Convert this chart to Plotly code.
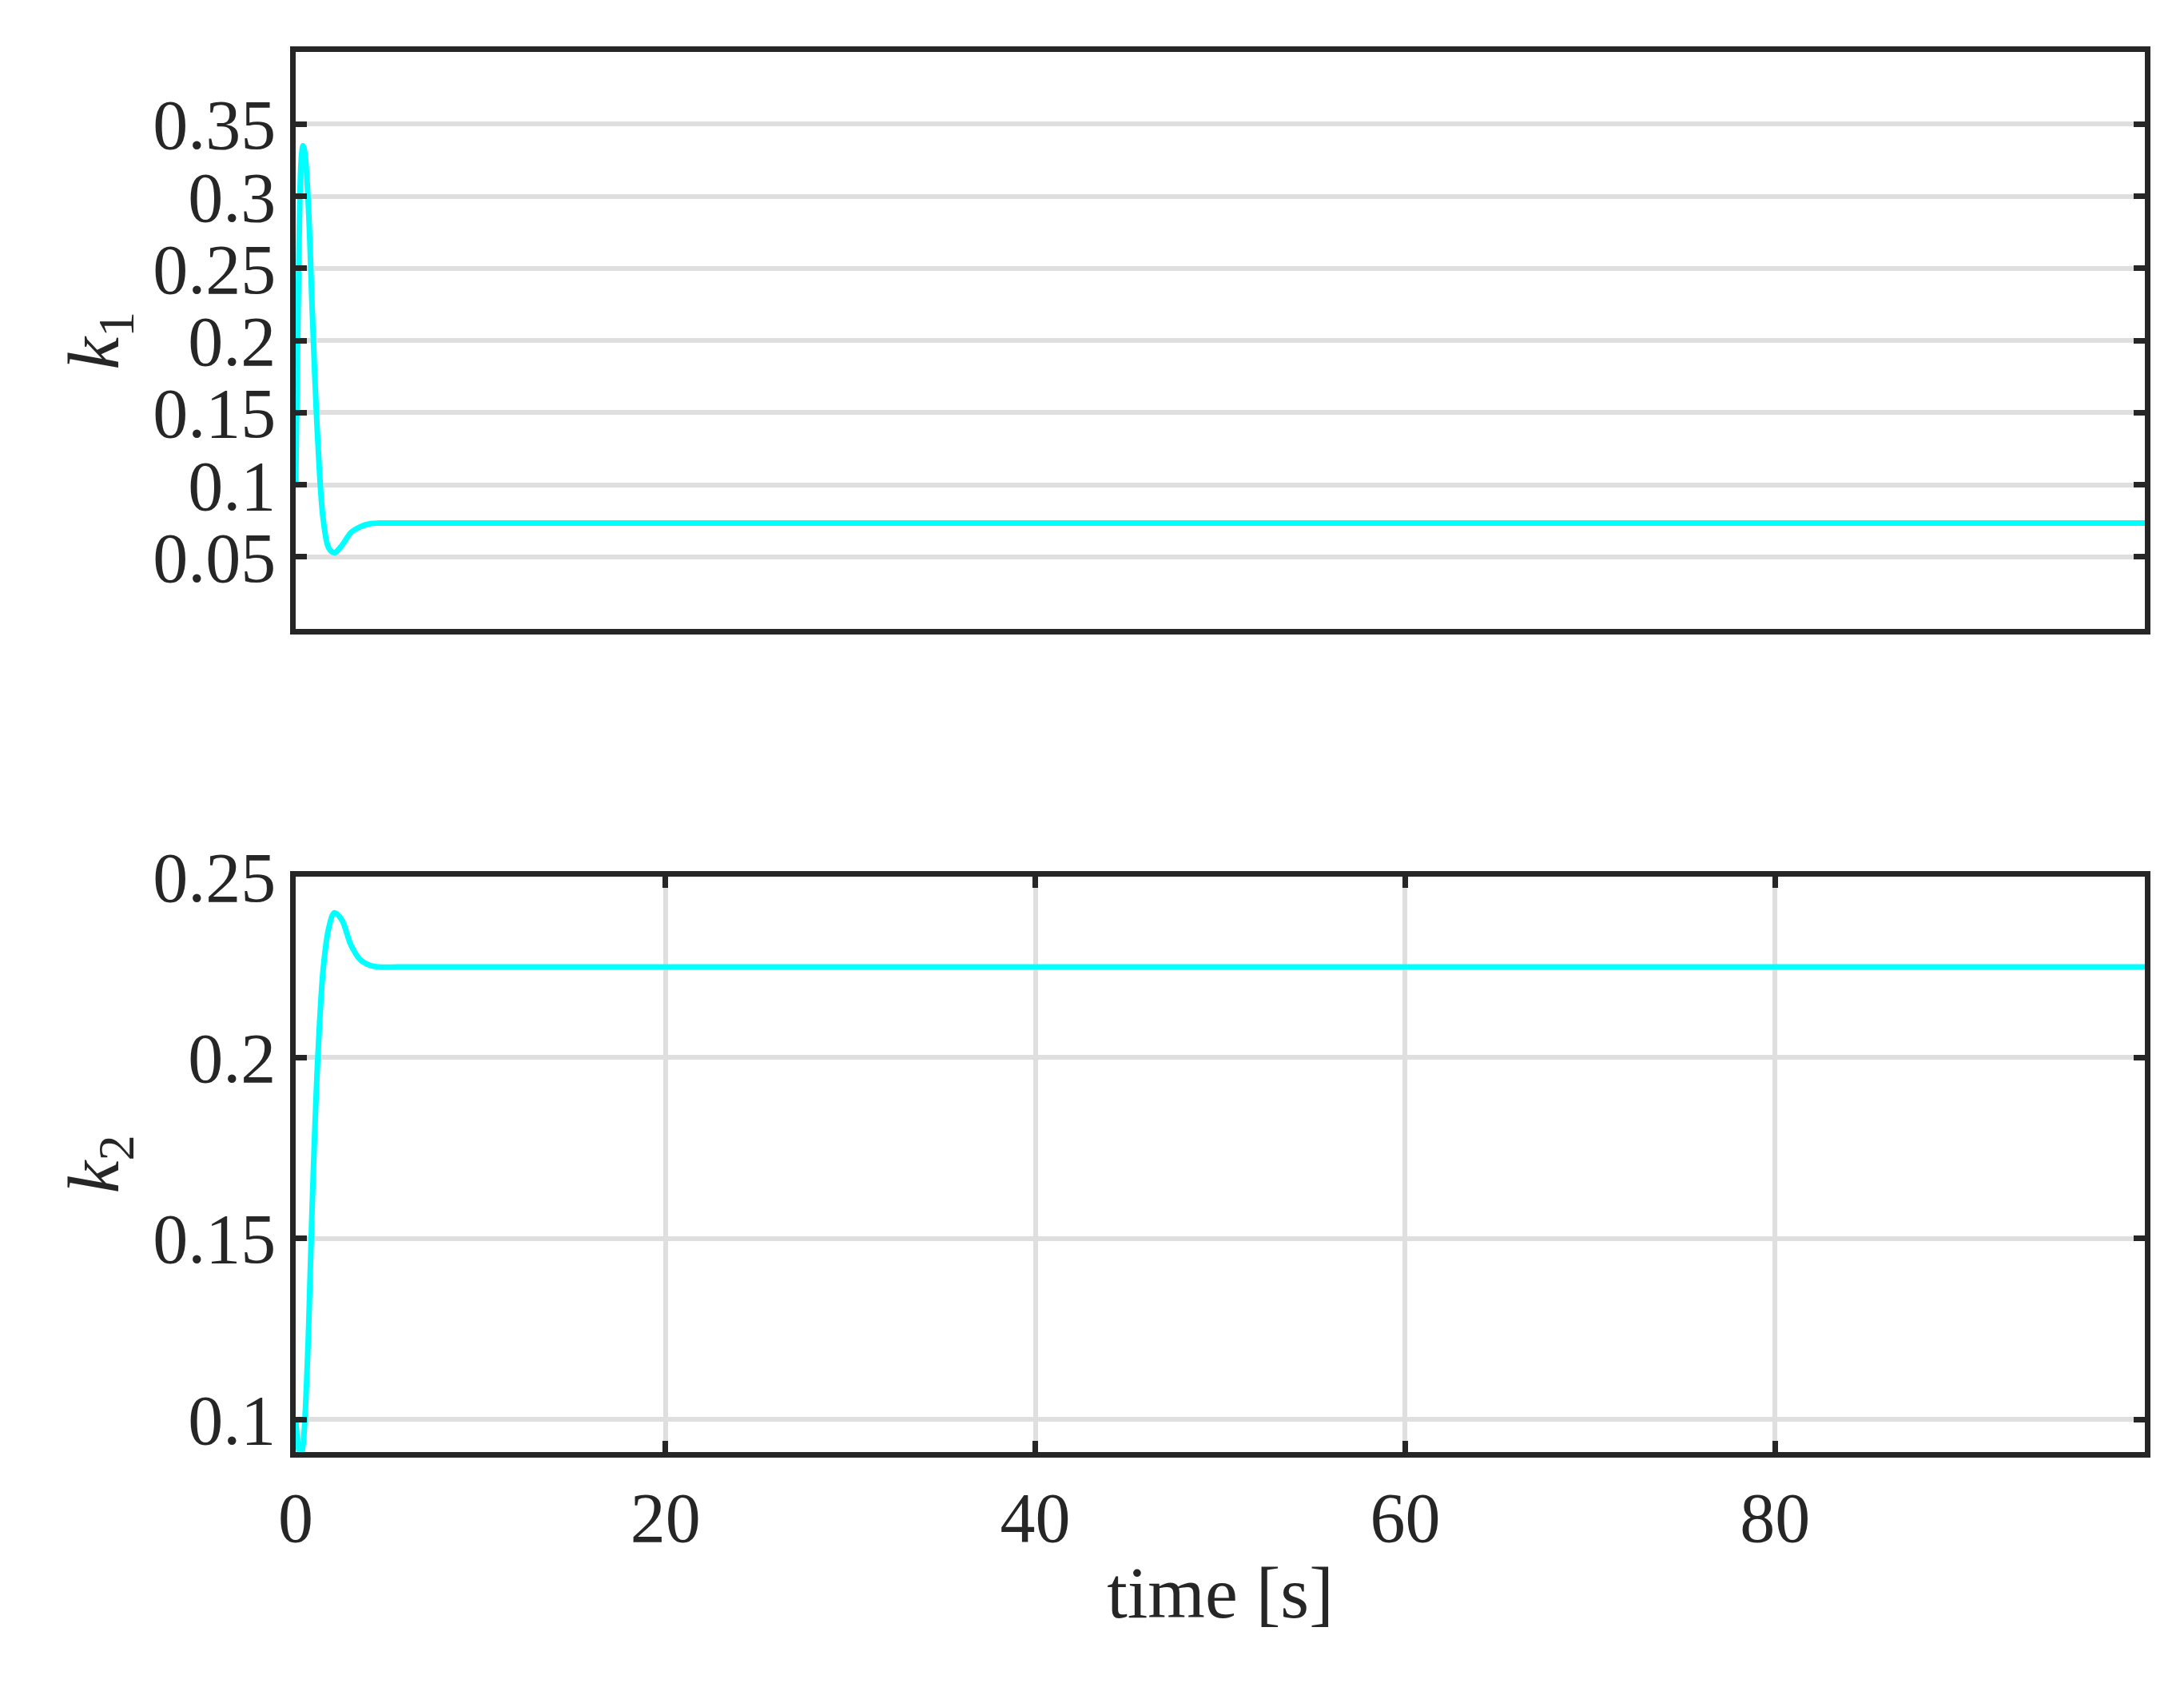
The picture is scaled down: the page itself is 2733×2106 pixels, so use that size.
import plotly.graph_objects as go

# hand-read samples of the two gain trajectories
t = [0, 0.1, 0.2, 0.3, 0.4, 0.5, 0.7, 0.9, 1.2, 1.5, 1.8, 2.1, 2.5, 3.0, 3.5, 4.0, 4.5, 5.5, 7, 10, 30, 60, 100]
k1 = [0.10, 0.19, 0.28, 0.325, 0.335, 0.33, 0.29, 0.22, 0.13, 0.075, 0.056, 0.053, 0.058, 0.067, 0.071, 0.073, 0.0735, 0.0735, 0.0735, 0.0735, 0.0735, 0.0735, 0.0735]
k2 = [0.10, 0.094, 0.091, 0.0905, 0.093, 0.10, 0.125, 0.16, 0.20, 0.225, 0.236, 0.240, 0.238, 0.231, 0.227, 0.2255, 0.225, 0.225, 0.225, 0.225, 0.225, 0.225, 0.225]

font = "Liberation Serif, DejaVu Serif, serif"
cyan = "#00FFFF"
dark = "#262626"
grid = "#DFDFDF"

fig = go.Figure()
fig.add_trace(go.Scatter(x=t, y=k1, mode="lines", line=dict(color=cyan, width=7, shape="spline"),
                         xaxis="x", yaxis="y", showlegend=False))
fig.add_trace(go.Scatter(x=t, y=k2, mode="lines", line=dict(color=cyan, width=7, shape="spline"),
                         xaxis="x2", yaxis="y2", showlegend=False))

axis_common = dict(showline=True, linewidth=7, linecolor=dark, mirror="ticks",
                   ticks="inside", ticklen=14, tickwidth=7, tickcolor=dark,
                   gridcolor=grid, gridwidth=6, zeroline=False,
                   tickfont=dict(family=font, size=88, color=dark))
top_x = {k: v for k, v in axis_common.items() if k != "ticks"}
title_font = dict(family=font, size=92, color=dark)

fig.update_layout(
    width=2733, height=2106,
    paper_bgcolor="white", plot_bgcolor="white",
    margin=dict(l=0, r=0, t=0, b=0),
    xaxis=dict(domain=[0.1254, 0.979], anchor="y", range=[0, 100], showgrid=False,
               showticklabels=False, ticks="", **top_x),
    yaxis=dict(domain=[0.643, 0.995], anchor="x", range=[0, 0.4],
               tickvals=[0.05, 0.1, 0.15, 0.2, 0.25, 0.3, 0.35],
               ticktext=["0.05", "0.1", "0.15", "0.2", "0.25", "0.3", "0.35"],
               title=dict(text="<i>k</i><sub>1</sub>", font=title_font, standoff=15),
               **axis_common),
    xaxis2=dict(domain=[0.1254, 0.979], anchor="y2", range=[0, 100], dtick=20, showgrid=True,
                title=dict(text="time [s]", font=title_font, standoff=15),
                **axis_common),
    yaxis2=dict(domain=[0.141, 0.492], anchor="x2", range=[0.091, 0.25],
                tickvals=[0.1, 0.15, 0.2, 0.25], ticktext=["0.1", "0.15", "0.2", "0.25"],
                title=dict(text="<i>k</i><sub>2</sub>", font=title_font, standoff=15),
                **axis_common),
)

fig.write_html("out.html")
